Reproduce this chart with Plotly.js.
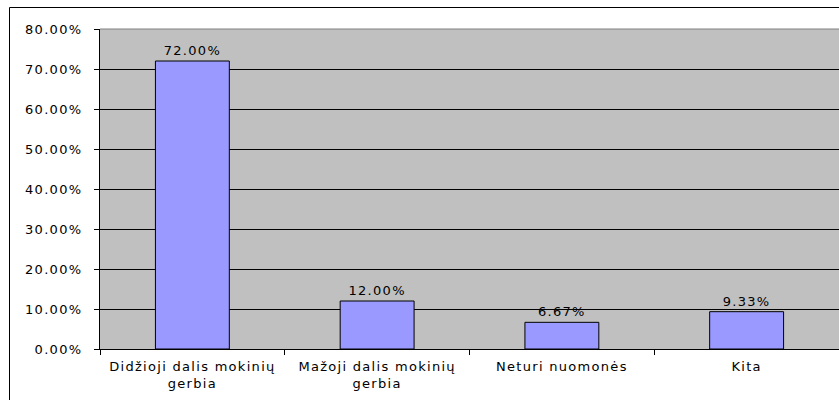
<!DOCTYPE html>
<html><head><meta charset="utf-8">
<script src="https://cdn.plot.ly/plotly-3.0.1.min.js"></script>
<style>
html,body{margin:0;padding:0;background:#fff}
#chart text{letter-spacing:1.3px}
</style>
</head><body>
<div id="chart" style="width:839px;height:400px"></div>
<script>
const categories = ["Didžioji dalis mokinių<br>gerbia", "Mažoji dalis mokinių<br>gerbia", "Neturi nuomonės", "Kita"];
const values = [0.72, 0.12, 0.0667, 0.0933];
const valueLabels = ["72.00%", "12.00%", "6.67%", "9.33%"];

const W = 839, H = 400, L = 100, T = 29, B = 51, R = 0;
const pw = W - L - R, ph = H - T - B;
const px = x => (x - L) / pw;
const py = y => (H - B - y) / ph;

const font = {family: "DejaVu Sans, Liberation Sans, Arial, sans-serif", size: 13, color: "#000"};

Plotly.newPlot("chart", [{
  type: "bar",
  x: categories,
  y: values,
  text: valueLabels,
  textposition: "outside",
  textfont: font,
  cliponaxis: false,
  width: 0.4,
  marker: {color: "#9999FF", line: {color: "#000", width: 1}},
  hoverinfo: "none"
}], {
  width: W, height: H,
  margin: {l: L, r: R, t: T, b: B, pad: 0},
  paper_bgcolor: "#fff",
  plot_bgcolor: "#C0C0C0",
  font: font,
  showlegend: false,
  xaxis: {
    type: "category",
    tickson: "boundaries",
    ticks: "outside", ticklen: 5, tickcolor: "#000",
    ticklabelstandoff: 5,
    showgrid: false,
    showline: true, linecolor: "#000", linewidth: 1,
    tickfont: font,
    fixedrange: true
  },
  yaxis: {
    range: [0, 0.8],
    dtick: 0.1,
    tickformat: ".2%",
    ticks: "outside", ticklen: 5, tickcolor: "#000",
    ticklabelstandoff: 9,
    showgrid: true, gridcolor: "#000", gridwidth: 1,
    showline: true, linecolor: "#000", linewidth: 1,
    zeroline: false,
    tickfont: font,
    fixedrange: true
  },
  shapes: [
    {type: "line", xref: "paper", yref: "paper", x0: 0, x1: 1, y0: 1, y1: 1, line: {color: "#808080", width: 1}},
    {type: "line", xref: "paper", yref: "paper", x0: px(9.5), x1: px(839), y0: py(7.5), y1: py(7.5), line: {color: "#000", width: 1}},
    {type: "line", xref: "paper", yref: "paper", x0: px(9.5), x1: px(9.5), y0: py(7.5), y1: py(400), line: {color: "#000", width: 1}}
  ]
}, {displayModeBar: false, staticPlot: true});
</script>
</body></html>
